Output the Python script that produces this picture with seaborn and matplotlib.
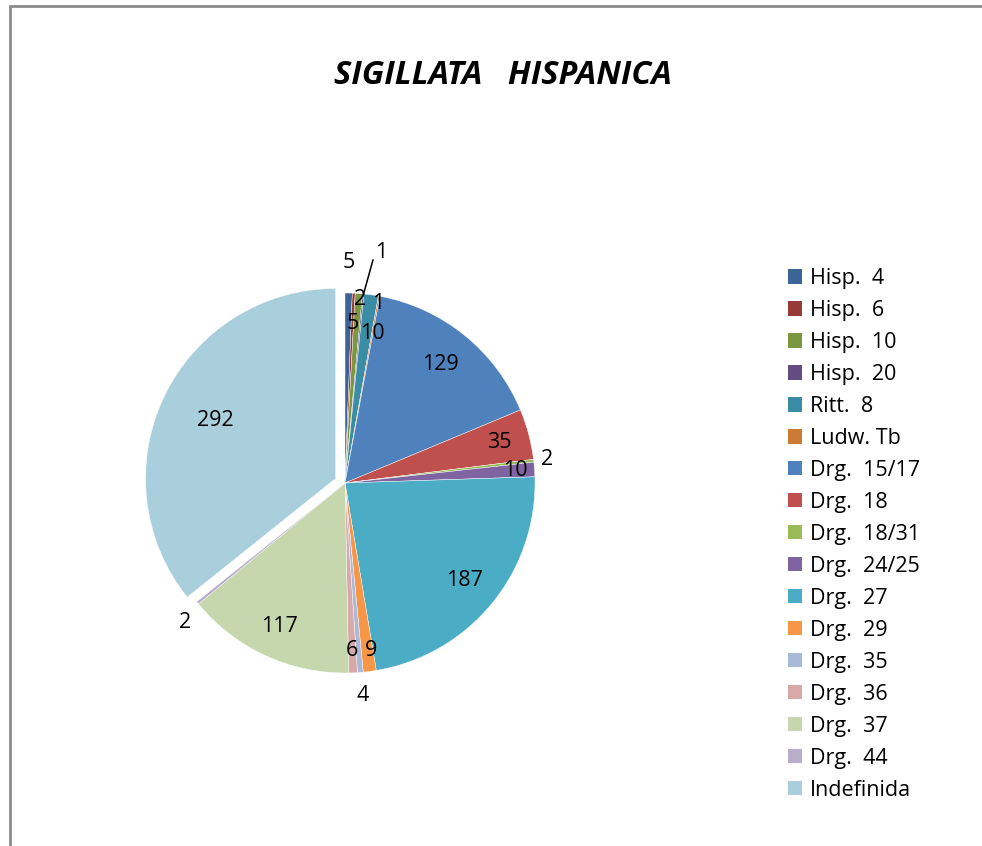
import numpy as np
import matplotlib
matplotlib.use("Agg")
import matplotlib.pyplot as plt
import seaborn as sns
from matplotlib.patches import Patch
from matplotlib.lines import Line2D

categories = ["Hisp.  4", "Hisp.  6", "Hisp.  10", "Hisp.  20", "Ritt.  8", "Ludw. Tb",
              "Drg.  15/17", "Drg.  18", "Drg.  18/31", "Drg.  24/25", "Drg.  27",
              "Drg.  29", "Drg.  35", "Drg.  36", "Drg.  37", "Drg.  44", "Indefinida"]
values = [5, 2, 5, 1, 10, 1, 129, 35, 2, 10, 187, 9, 4, 6, 117, 2, 292]
colors = ["#3C6496", "#983A38", "#7A9640", "#634C82", "#3A8DA4", "#CC7A34",
          "#4F81BD", "#C0504D", "#9BBB59", "#8064A2", "#4BACC6", "#F79646",
          "#A9B9D8", "#D8A9A8", "#C6D6AD", "#B8AEC9", "#A9CEDC"]
title = "SIGILLATA   HISPANICA"

# label style: radial distance (fraction of radius) and angle nudge (deg) per slice
label_r = [1.16, 0.97, 0.84, 1.23, 0.80, 0.96, 0.80, 0.84, 1.07, 0.90, 0.81,
           0.89, 1.12, 0.88, 0.83, 1.12, 0.70]
label_da = [0, 2, -1.5, 3.5, 2.5, 0, 0, 0, 0, 0, 0, -1.5, 0, 0, 0, -2, 0]
explode = [0] * 16 + [0.055]

sns.set_theme(style="white")
plt.rcParams['font.family'] = ['Open Sans', 'DejaVu Sans']
plt.rcParams['text.color'] = 'black'

palette = sns.color_palette(colors)

fig = plt.figure(figsize=(9.82, 8.46), dpi=100)
fig.patch.set_facecolor("white")

# chart border (top and left)
fig.add_artist(Line2D([9.5 / 982, 9.5 / 982], [0, 1 - 6.5 / 846], transform=fig.transFigure,
                      color="#8C8C8C", lw=2))
fig.add_artist(Line2D([9.5 / 982, 1], [1 - 6.5 / 846, 1 - 6.5 / 846], transform=fig.transFigure,
                      color="#8C8C8C", lw=2))

R = 190.0
cx, cy = 345.0, 483.0
lim = 1.3
w = 2 * lim * R
ax = fig.add_axes([(cx - w / 2) / 982, (846 - cy - w / 2) / 846, w / 982, w / 846])

wedges, _ = ax.pie(values, colors=palette, startangle=90, counterclock=False,
                   explode=explode, radius=1.0,
                   wedgeprops=dict(edgecolor="white", linewidth=0.3))
ax.set_xlim(-lim, lim)
ax.set_ylim(-lim, lim)
ax.set_aspect("equal")
ax.axis("off")

total = float(sum(values))
cum = 0.0
for i, v in enumerate(values):
    mid = (cum + v / 2) / total * 2 * np.pi
    cum += v
    ang = np.pi / 2 - mid
    ox = explode[i] * np.cos(ang)
    oy = explode[i] * np.sin(ang)
    la = ang - np.deg2rad(label_da[i])
    r = label_r[i]
    x = ox + r * np.cos(la)
    y = oy + r * np.sin(la)
    if categories[i] == "Hisp.  20":
        ex, ey = np.cos(ang) * 0.99, np.sin(ang) * 0.99
        ax.plot([x - 0.045, ex], [y - 0.04, ey], color="black", lw=1.1)
    ax.text(x, y, str(v), ha="center", va="center", fontsize=15.5, color="black")

fig.text(503 / 982, 1 - 76 / 846, title, ha="center", va="center",
         fontsize=23.5, fontweight="bold", fontstyle="italic", color="black")

handles = [Patch(facecolor=c, edgecolor="none") for c in colors]
leg = fig.legend(handles, categories, loc="upper left",
                 bbox_to_anchor=(788 / 982, 1 - 268 / 846), frameon=False,
                 fontsize=15.5, handlelength=0.65, handleheight=0.65, handletextpad=0.35,
                 labelspacing=0.51, borderaxespad=0, borderpad=0)
for t in leg.get_texts():
    t.set_color("black")

fig.savefig("out.png", dpi=100, facecolor="white")
